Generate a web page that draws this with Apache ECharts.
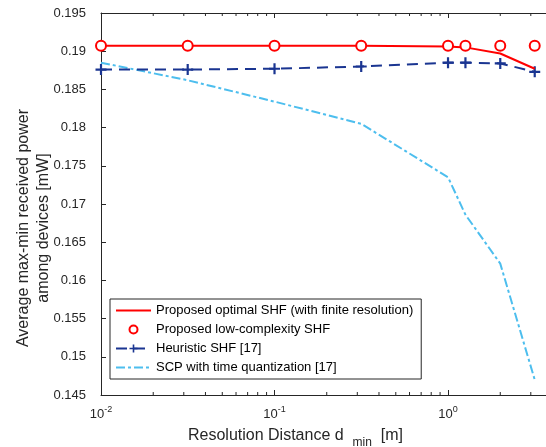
<!DOCTYPE html>
<html>
<head>
<meta charset="utf-8">
<script src="https://cdn.jsdelivr.net/npm/echarts@6/dist/echarts.min.js"></script>
<style>
  html, body { margin: 0; padding: 0; background: #fff; }
  #chart { width: 546px; height: 447px; }
</style>
</head>
<body>
<div id="chart"></div>
<script>
  // resolution distance d_min [m]
  var dmin = [0.01, 0.0316, 0.1, 0.316, 1, 1.26, 2, 3.16];
  var optimalShf = [0.1907, 0.1907, 0.1907, 0.1907, 0.1906, 0.1905, 0.1897, 0.1877];
  var lowComplexityShf = [0.1907, 0.1907, 0.1907, 0.1907, 0.1907, 0.1907, 0.1907, 0.1907];
  var heuristicShf = [0.1876, 0.1876, 0.1877, 0.1880, 0.1885, 0.1885, 0.1884, 0.1873];
  var scpTimeQuant = [0.1885, 0.1862, 0.1834, 0.1805, 0.1735, 0.1686, 0.1622, 0.1470];
  var legendNames = ['Proposed optimal SHF (with finite resolution)', 'Proposed low-complexity SHF',
    'Heuristic SHF [17]', 'SCP with time quantization [17]'];
  var minorTicks = [0.02, 0.03, 0.04, 0.05, 0.06, 0.07, 0.08, 0.09,
    0.2, 0.3, 0.4, 0.5, 0.6, 0.7, 0.8, 0.9, 2, 3];

  var xMin = 0.01, xMax = 3.67;
  var yMin = 0.145, yMax = 0.195;
  var font = '"Liberation Sans", Arial, sans-serif';
  var axisColor = '#262626';
  var plus = 'path://M4,0H6V4H10V6H6V10H4V6H0V4H4Z';

  function pairs(ys) {
    return dmin.map(function (x, i) { return [x, ys[i]]; });
  }

  var chart = echarts.init(document.getElementById('chart'));
  chart.setOption({
    animation: false,
    textStyle: { fontFamily: font },
    grid: { left: 101, top: 13, right: 0, bottom: 52, outerBoundsMode: 'none', containLabel: false },
    legend: {
      orient: 'vertical',
      left: 110,
      top: 299,
      data: [
        { name: legendNames[0], itemStyle: { opacity: 0 } },
        { name: legendNames[1] },
        { name: legendNames[2] },
        { name: legendNames[3], itemStyle: { opacity: 0 } }
      ],
      itemWidth: 35,
      itemHeight: 10,
      itemGap: 6,
      padding: [5, 8, 5, 5],
      borderColor: axisColor,
      borderWidth: 1,
      backgroundColor: '#fff',
      textStyle: { fontSize: 13, color: '#000', lineHeight: 13, fontFamily: font }
    },
    xAxis: [{
      type: 'log',
      logBase: 10,
      min: xMin,
      max: xMax,
      position: 'bottom',
      name: 'Resolution Distance d  {sub|min}  [m]',
      nameLocation: 'middle',
      nameGap: 28,
      nameMoveOverlap: false,
      nameTextStyle: {
        fontSize: 16, color: axisColor, padding: [0, 56, 0, 0],
        rich: { sub: { fontSize: 12, padding: [14, 0, 0, 0], color: axisColor } }
      },
      axisLine: { lineStyle: { color: axisColor, width: 1 } },
      axisTick: { inside: true, length: 5, lineStyle: { color: axisColor } },
      splitLine: { show: false },
      axisLabel: {
        margin: 10,
        showMaxLabel: false,
        color: axisColor,
        formatter: function (v) {
          var e = Math.round(Math.log10(v));
          if (Math.abs(Math.log10(v) - e) > 1e-6) return '';
          return '{b|10}{s|' + e + '}';
        },
        rich: {
          b: { fontSize: 13, color: axisColor },
          s: { fontSize: 9, color: axisColor, padding: [0, 0, 10, 0] }
        }
      }
    }, {
      type: 'log',
      logBase: 10,
      min: xMin,
      max: xMax,
      position: 'top',
      axisLine: { lineStyle: { color: axisColor, width: 1 } },
      axisTick: { inside: true, length: 5, lineStyle: { color: axisColor } },
      axisLabel: { show: false },
      splitLine: { show: false }
    }],
    yAxis: {
      type: 'value',
      min: yMin,
      max: yMax,
      interval: 0.005,
      name: 'Average max-min received power\namong devices [mW]',
      nameLocation: 'middle',
      nameGap: 47,
      nameMoveOverlap: false,
      nameTextStyle: { fontSize: 16, color: axisColor, lineHeight: 20, padding: [0, 48, 0, 0] },
      axisLine: { show: true, lineStyle: { color: axisColor, width: 1 } },
      axisTick: { inside: true, length: 5, lineStyle: { color: axisColor } },
      splitLine: { show: false },
      axisLabel: {
        margin: 15,
        fontSize: 13,
        color: axisColor,
        formatter: function (v) { return String(+v.toFixed(3)); }
      }
    },
    series: [{
      name: legendNames[3],
      type: 'line',
      data: pairs(scpTimeQuant),
      symbol: 'none',
      lineStyle: { color: '#4DBEEE', width: 2, type: [9, 3, 3, 3] },
      itemStyle: { color: '#4DBEEE' },
      z: 2
    }, {
      name: legendNames[2],
      type: 'line',
      data: pairs(heuristicShf),
      symbol: plus,
      symbolSize: 11,
      lineStyle: { color: '#1A3591', width: 2, type: [11, 7] },
      itemStyle: { color: '#1A3591' },
      z: 3
    }, {
      name: legendNames[0],
      type: 'line',
      data: pairs(optimalShf),
      symbol: 'none',
      lineStyle: { color: '#FF0000', width: 2 },
      itemStyle: { color: '#FF0000' },
      z: 4
    }, {
      name: legendNames[1],
      type: 'line',
      data: pairs(lowComplexityShf),
      symbol: 'emptyCircle',
      symbolSize: 10,
      showAllSymbol: true,
      lineStyle: { opacity: 0, width: 0 },
      itemStyle: { color: '#FF0000', borderWidth: 2, borderColor: '#FF0000' },
      z: 5
    }, {
      type: 'custom',
      silent: true,
      clip: false,
      data: minorTicks.map(function (v) { return [v, yMin]; }),
      renderItem: function (params, api) {
        var b = api.coord([api.value(0), yMin]);
        var t = api.coord([api.value(0), yMax]);
        var st = { stroke: axisColor, lineWidth: 1 };
        return {
          type: 'group',
          children: [
            { type: 'line', shape: { x1: b[0], y1: b[1], x2: b[0], y2: b[1] - 3 }, style: st },
            { type: 'line', shape: { x1: t[0], y1: t[1], x2: t[0], y2: t[1] + 3 }, style: st }
          ]
        };
      }
    }]
  });
</script>
</body>
</html>
